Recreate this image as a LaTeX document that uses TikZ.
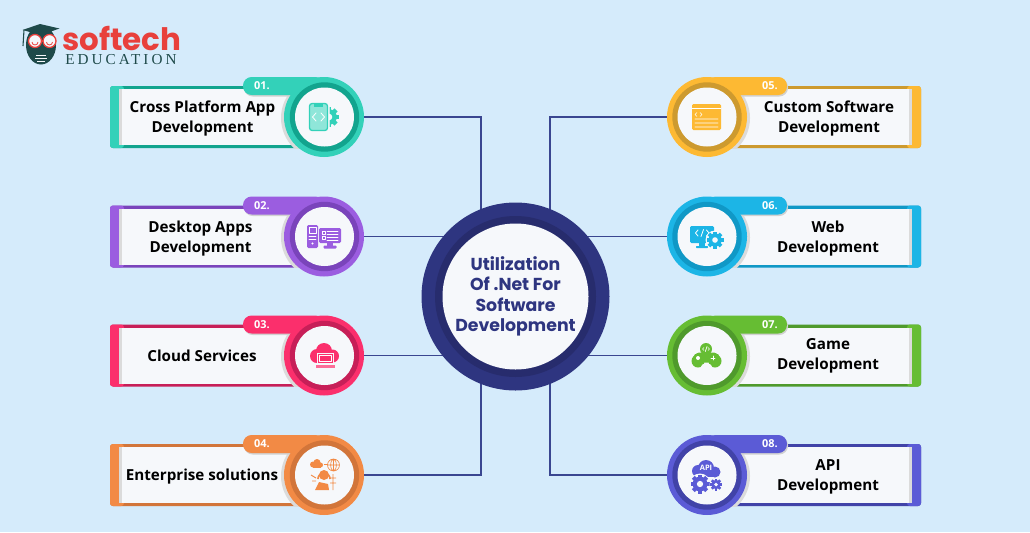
\documentclass[tikz,border=0pt]{standalone}
\usepackage{fontspec}
\setmainfont{Open Sans}
\newfontfamily\pop{Poppins}
\newfontfamily\edu[LetterSpace=20]{Liberation Serif}
\usetikzlibrary{backgrounds}
\definecolor{bgc}{HTML}{D5EBFB}
\definecolor{panel}{HTML}{F6F8FB}
\definecolor{navy}{HTML}{2E3580}
\definecolor{navyd}{HTML}{272C6D}
\definecolor{line}{HTML}{3A4690}
\definecolor{logor}{HTML}{E8403C}
\definecolor{logod}{HTML}{1F4A4A}
\definecolor{tealL}{HTML}{33D1B9}\definecolor{tealD}{HTML}{12A48E}
\definecolor{purL}{HTML}{9B5DE0}\definecolor{purD}{HTML}{7A44BB}
\definecolor{pinkL}{HTML}{FB2F6C}\definecolor{pinkD}{HTML}{C71F58}
\definecolor{oraL}{HTML}{F28A45}\definecolor{oraD}{HTML}{D2753A}
\definecolor{yelL}{HTML}{FDB933}\definecolor{yelD}{HTML}{CD9A2F}
\definecolor{bluL}{HTML}{1CB5E6}\definecolor{bluD}{HTML}{1098C6}
\definecolor{greL}{HTML}{66BD33}\definecolor{greD}{HTML}{4F9A2C}
\definecolor{indL}{HTML}{5B5BD6}\definecolor{indD}{HTML}{4143A8}
\tikzset{
  x=0.75pt,y=-0.75pt,
  ringnode/.style={circle,inner sep=0pt,outer sep=0pt,minimum size=60pt},
  lab/.style={font=\bfseries\fontsize{11.4pt}{15pt}\selectfont,align=center,text=black,inner sep=0pt},
  numlab/.style={font=\bfseries\fontsize{8.2pt}{10pt}\selectfont,text=white,inner sep=0pt},
  conn/.style={draw=line,line width=1.1pt},
  wl/.style={draw=white,line width=0.6pt,line cap=round,line join=round},
}
% id, cy, light, dark, number, text, text position
\newcommand{\leftcard}[7]{%
\begin{scope}[shift={(0,#2)}]
  \fill[#4,rounded corners=2.2pt] (110,-31) rectangle (310,31);
  \fill[#3,rounded corners=2.2pt] (110,-31) rectangle (124,31);
  \fill[panel] (119,-28) rectangle (310,28);
  \fill[black!14] (119,-28) rectangle (122,28);
  \begin{scope}
    \clip (110,-31) rectangle (330,31);
    \fill[black!14] (322.5,1) circle (41.5);
  \end{scope}
  \fill[black!18,rounded corners=6.5pt] (244,-38.5) rectangle (324,-20.5);
  \fill[#3,rounded corners=6.5pt] (243,-40) rectangle (324,-22);
  \node[ringnode,fill=#3] (c#1) at (324,0) {};
  \fill[#4] (324.5,0) circle (34.7);
  \fill[panel] (324.5,0) circle (29.5);
  \node[numlab] (n#1) at (262,-31) {#5};
  \node[lab] (t#1) at (#7) {#6};
\end{scope}}
\newcommand{\rightcard}[7]{%
\begin{scope}[shift={(0,#2)}]
  \fill[#4,rounded corners=2.2pt] (720,-31) rectangle (921,31);
  \fill[#3,rounded corners=2.2pt] (907,-31) rectangle (921,31);
  \fill[panel] (720,-28) rectangle (912,28);
  \fill[black!14] (909,-28) rectangle (912,28);
  \begin{scope}
    \clip (700,-31) rectangle (921,31);
    \fill[black!14] (708.5,1) circle (41.5);
  \end{scope}
  \fill[black!18,rounded corners=6.5pt] (707,-38.5) rectangle (788,-20.5);
  \fill[#3,rounded corners=6.5pt] (707,-40) rectangle (787,-22);
  \node[ringnode,fill=#3] (c#1) at (707,0) {};
  \fill[#4] (707,0) circle (34.7);
  \fill[panel] (707,0) circle (29.5);
  \node[numlab] (n#1) at (770,-31) {#5};
  \node[lab] (t#1) at (#7) {#6};
\end{scope}}
% x, y, radius, colour
\newcommand{\gearicon}[4]{%
  \foreach \a in {0,45,...,315}{
    \fill[#4,rotate around={\a:(#1,#2)}] ({#1-0.22*#3},#2) rectangle ({#1+0.22*#3},{#2-#3});
  }
  \fill[#4] (#1,#2) circle ({0.78*#3});
  \fill[panel] (#1,#2) circle ({0.33*#3});
}
\begin{document}
\begin{tikzpicture}
\useasboundingbox (0,0) rectangle (1030,532);
\begin{scope}[on background layer]
  \fill[bgc] (0,0) rectangle (1030,532);
\end{scope}

% logo
\fill[logod] (41,45) ellipse (15 and 19.5);
\fill[logod] (40,24) -- (59.5,28.5) -- (41,35) -- (22.5,30) -- cycle;
\draw[logod,line width=0.8pt] (24,30) -- (23,46);
\draw[panel,line width=0.4pt] (36,55) -- (46,55) (35,58) -- (47,58) (37,61) -- (45,61);
\filldraw[draw=logor,fill=panel,line width=1pt] (35,41) circle (6.5) (49.5,41) circle (6.5);
\draw[logor,line width=0.6pt] (32,42) arc[start angle=180,end angle=0,radius=3];
\draw[logor,line width=0.6pt] (46.5,42) arc[start angle=180,end angle=0,radius=3];
\node[font=\pop\bfseries\fontsize{23.2pt}{24pt}\selectfont,text=logor,inner sep=0pt,anchor=base west] (lg1) at (62,50) {softech};
\node[font=\edu\fontsize{11.4pt}{12pt}\selectfont,text=logod,inner sep=0pt,anchor=base west] (lg2) at (65,64) {EDUCATION};

% hub
\node[ringnode,minimum size=141pt,fill=navy] (hub) at (515.5,296.5) {};
\fill[navyd] (515.5,296.5) circle (80.5);
\fill[panel] (515.5,296.5) circle (73);
\node[font=\pop\bfseries\fontsize{13pt}{15.4pt}\selectfont,text=navy,align=center,inner sep=0pt] (hubt) at (515.5,296.5) {Utilization\\Of .Net For\\Software\\Development};

% cards
\leftcard{1}{117}{tealL}{tealD}{01.}{Cross Platform App\\Development}{202.5,1.5}
\leftcard{2}{236.5}{purL}{purD}{02.}{Desktop Apps\\Development}{200.5,2.5}
\leftcard{3}{355.5}{pinkL}{pinkD}{03.}{Cloud Services}{202,0}
\leftcard{4}{475}{oraL}{oraD}{04.}{Enterprise solutions}{202,2}
\rightcard{5}{117}{yelL}{yelD}{05.}{Custom Software\\Development}{829,1.5}
\rightcard{6}{236.5}{bluL}{bluD}{06.}{Web\\Development}{828,2}
\rightcard{7}{355.5}{greL}{greD}{07.}{Game\\Development}{828,0}
\rightcard{8}{475}{indL}{indD}{08.}{API\\Development}{828,2}

% connectors
\coordinate (jl) at (481,296.5);
\coordinate (jr) at (550,296.5);
\begin{scope}[on background layer]
  \draw[conn] (c1.east) -| (jl);
  \draw[conn] (c4.east) -| (jl);
  \draw[conn] (c5.west) -| (jr);
  \draw[conn] (c8.west) -| (jr);
  \draw[conn] (c2.east) -- (c2.east -| hub.center);
  \draw[conn] (c3.east) -- (c3.east -| hub.center);
  \draw[conn] (c6.west) -- (c6.west -| hub.center);
  \draw[conn] (c7.west) -- (c7.west -| hub.center);
\end{scope}

% icon 1
\gearicon{329}{117}{10}{tealL}
\filldraw[draw=panel,line width=0.8pt,fill=panel,rounded corners=2pt] (308,102) rectangle (329,132);
\filldraw[draw=tealL,fill=tealL!55,line width=1pt,rounded corners=2pt] (309.5,103.5) rectangle (327.5,130.5);
\fill[tealL] (314,103.5) rectangle (323,106.5);
\draw[wl] (316,113) -- (312.5,117) -- (316,121) (321,113) -- (324.5,117) -- (321,121);

% icon 2
\fill[purL,rounded corners=1pt] (307,225) rectangle (318,248);
\draw[wl,line width=0.45pt] (309,227.5) rectangle (316,233) (309,236) -- (316,236) (309,239) -- (316,239);
\fill[white] (312.5,243.5) circle (1.2);
\fill[purL,rounded corners=1pt] (319,228) rectangle (341,243);
\fill[purL] (327,243) rectangle (333,246);
\fill[purL,rounded corners=0.7pt] (323.5,245.5) rectangle (336.5,248.5);
\draw[wl,line width=0.45pt] (322,231) rectangle (325,234) (322,236) rectangle (325,239) (327,231.5) -- (338,231.5) (327,234) -- (338,234) (327,237) -- (338,237) (327,240) -- (338,240);

% icon 3
\fill[pinkL] (317,356) circle (7) (324,351) circle (8) (332.5,356) circle (6.5);
\fill[pinkL] (317,355) rectangle (333,363);
\filldraw[draw=panel,fill=pinkL,line width=0.6pt] (317,353) rectangle (333,363);
\draw[wl,line width=0.5pt] (319,355) rectangle (331,361);
\fill[pinkL!70] (315.5,364.5) rectangle (334.5,368);

% icon 4
\fill[oraL] (313,464.5) circle (3) (317,462.5) circle (3.5) (320.5,465) circle (2.5);
\fill[oraL] (313,464.5) rectangle (320.5,467.5);
\draw[oraL,line width=0.6pt,dashed] (324,464) -- (328,464);
\draw[oraL,line width=0.5pt] (333.5,465) circle (6) (327.5,465) -- (339.5,465) (333.5,459) -- (333.5,471) (333.5,465) ellipse (2.8 and 6);
\fill[oraL] (324,475) circle (5);
\draw[oraL,line width=1.3pt] (318,479) arc[start angle=180,end angle=360,radius=6];
\fill[oraL] (315,490) -- (319,482) -- (328,484) -- (329,490) -- cycle;
\draw[oraL,line width=0.7pt] (311,475) -- (316,478) (312,481) -- (316,481) (333,474) -- (333,490) (330,478) -- (336,478) (330,483) -- (336,483);

% icon 5
\fill[yelL,rounded corners=1pt] (692,104) rectangle (721,130);
\draw[wl,line width=0.45pt] (692,108.5) -- (721,108.5);
\draw[wl,line width=0.45pt] (697,112.5) -- (695,114.5) -- (697,116.5) (700,112.5) -- (702,114.5) -- (700,116.5) (695,119) -- (718,119) (695,123) -- (718,123) (695,127) -- (718,127);

% icon 6
\fill[bluL,rounded corners=1pt] (690,226) rectangle (714,243);
\fill[bluL] (699,243) rectangle (705,246);
\fill[bluL,rounded corners=0.5pt] (696,246) rectangle (708,248);
\draw[wl] (698,230) -- (695.5,233) -- (698,236) (703.5,229.5) -- (701,236.5) (706.5,230) -- (709,233) -- (706.5,236);
\fill[panel] (715,240) circle (9.5);
\gearicon{715}{240}{8.5}{bluL}

% icon 7
\fill[greL] (698,361) circle (6.5) (715,361) circle (6.5);
\fill[greL,rounded corners=3pt] (695,352.5) rectangle (718,362.5);
\fill[greL] (692,360) -- (695,354) -- (718,354) -- (721,360) -- cycle;
\fill[panel] (706.5,367.5) ellipse (6 and 4);
\fill[greL] (706,349) circle (6);
\draw[greL,line width=0.6pt] (706,355) -- (706,358);
\draw[wl,line width=0.5pt] (704,347.5) -- (702.5,349) -- (704,350.5) (707,346.5) -- (705.3,351.5) (708,347.5) -- (709.5,349) -- (708,350.5);
\fill[white] (698,358) circle (2);
\draw[wl] (711,358) -- (715,358) (713,356) -- (713,360);

% icon 8
\fill[indL] (698,471) circle (6) (706,468) circle (8) (715,472) circle (5.5);
\fill[indL] (698,471) rectangle (715,477);
\node[font=\bfseries\fontsize{5.6pt}{6pt}\selectfont,text=white,inner sep=0pt] (apit) at (706,468) {API};
\fill[panel] (700,484) circle (10.5);
\gearicon{700}{484}{9.5}{indL}
\fill[panel] (716,484.5) circle (6.5);
\gearicon{716}{484.5}{6}{indL}
\end{tikzpicture}
\end{document}
